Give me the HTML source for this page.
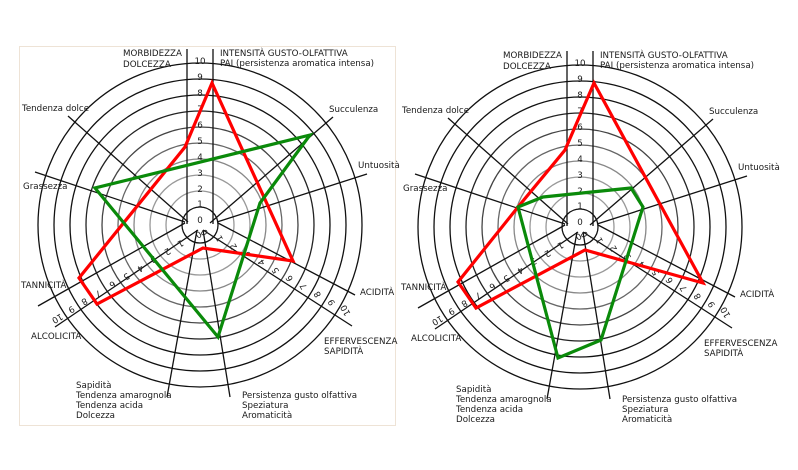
<!DOCTYPE html>
<html><head><meta charset="utf-8"><style>
html,body{margin:0;padding:0;background:#fff;}
svg{display:block;}
text{font-family:"DejaVu Sans","Liberation Sans",sans-serif;font-size:8.7px;fill:#1a1a1a;}
</style></head><body>
<svg width="798" height="470" viewBox="0 0 798 470" xmlns="http://www.w3.org/2000/svg">
<rect x="0" y="0" width="798" height="470" fill="#fff"/>
<rect x="19.5" y="46.5" width="376" height="379" fill="none" stroke="#eee3d6" stroke-width="1"/>
<defs>
<g id="grid" fill="none" stroke-width="1.3">
  <circle cx="200" cy="225" r="18" stroke="#111"/>
  <circle cx="200" cy="225" r="34" stroke="#999"/>
  <circle cx="200" cy="225" r="50" stroke="#999"/>
  <circle cx="200" cy="225" r="66" stroke="#888"/>
  <circle cx="200" cy="225" r="82" stroke="#666"/>
  <circle cx="200" cy="225" r="98" stroke="#444"/>
  <circle cx="200" cy="225" r="114" stroke="#222"/>
  <circle cx="200" cy="225" r="130" stroke="#111"/>
  <circle cx="200" cy="225" r="146" stroke="#111"/>
  <circle cx="200" cy="225" r="162" stroke="#111"/>
  <g stroke="#111">
    <line x1="187" y1="224" x2="187" y2="49"/>
    <line x1="213" y1="224" x2="213" y2="49"/>
    <line x1="188" y1="222" x2="68" y2="116"/>
    <line x1="210" y1="223" x2="333" y2="117"/>
    <line x1="185" y1="222" x2="35" y2="172"/>
    <line x1="217" y1="222" x2="367" y2="174"/>
    <line x1="185" y1="223" x2="38" y2="306"/>
    <line x1="198" y1="230" x2="55" y2="327"/>
    <line x1="218" y1="223" x2="355" y2="295"/>
    <line x1="203" y1="230" x2="352" y2="326"/>
    <line x1="197" y1="230" x2="167" y2="397"/>
    <line x1="203" y1="230" x2="230" y2="397"/>
  </g>
</g>
</defs>
<use href="#grid"/>
<use href="#grid" transform="translate(380,2)"/>

<g>
<text x="123" y="56">MORBIDEZZA</text>
<text x="123" y="67">DOLCEZZA</text>
<text x="220" y="56">INTENSITÀ GUSTO-OLFATTIVA</text>
<text x="220" y="66">PAI (persistenza aromatica intensa)</text>
<text x="22" y="111">Tendenza dolce</text>
<text x="329" y="112">Succulenza</text>
<text x="358" y="168">Untuosità</text>
<text x="23" y="189">Grassezza</text>
<text x="21" y="288">TANNICITÀ</text>
<text x="360" y="295">ACIDITÀ</text>
<text x="31" y="339">ALCOLICITÀ</text>
<text x="324" y="344">EFFERVESCENZA</text>
<text x="324" y="354">SAPIDITÀ</text>
<text x="76" y="388">Sapidità</text>
<text x="76" y="398">Tendenza amarognola</text>
<text x="76" y="408">Tendenza acida</text>
<text x="76" y="418">Dolcezza</text>
<text x="242" y="398">Persistenza gusto olfattiva</text>
<text x="242" y="408">Speziatura</text>
<text x="242" y="418">Aromaticità</text>
</g>
<g transform="translate(380,2)">
<text x="123" y="56">MORBIDEZZA</text>
<text x="123" y="67">DOLCEZZA</text>
<text x="220" y="56">INTENSITÀ GUSTO-OLFATTIVA</text>
<text x="220" y="66">PAI (persistenza aromatica intensa)</text>
<text x="22" y="111">Tendenza dolce</text>
<text x="329" y="112">Succulenza</text>
<text x="358" y="168">Untuosità</text>
<text x="23" y="189">Grassezza</text>
<text x="21" y="288">TANNICITÀ</text>
<text x="360" y="295">ACIDITÀ</text>
<text x="31" y="339">ALCOLICITÀ</text>
<text x="324" y="344">EFFERVESCENZA</text>
<text x="324" y="354">SAPIDITÀ</text>
<text x="76" y="390">Sapidità</text>
<text x="76" y="400">Tendenza amarognola</text>
<text x="76" y="410">Tendenza acida</text>
<text x="76" y="420">Dolcezza</text>
<text x="242" y="400">Persistenza gusto olfattiva</text>
<text x="242" y="410">Speziatura</text>
<text x="242" y="420">Aromaticità</text>
</g>

<g text-anchor="middle">
<text x="200" y="223">0</text><text x="200" y="207">1</text><text x="200" y="192">2</text><text x="200" y="176">3</text><text x="200" y="160">4</text><text x="200" y="144">5</text><text x="200" y="128">6</text><text x="200" y="112">7</text><text x="200" y="96">8</text><text x="200" y="80">9</text><text x="200" y="64">10</text>
</g>
<g text-anchor="middle" transform="translate(380,2)">
<text x="200" y="223">0</text><text x="200" y="207">1</text><text x="200" y="192">2</text><text x="200" y="176">3</text><text x="200" y="160">4</text><text x="200" y="144">5</text><text x="200" y="128">6</text><text x="200" y="112">7</text><text x="200" y="96">8</text><text x="200" y="80">9</text><text x="200" y="64">10</text>
</g>

<g text-anchor="middle">
<text transform="translate(197,232) rotate(150)">0</text>
<text transform="translate(179,241) rotate(150)">1</text>
<text transform="translate(166,249) rotate(150)">2</text>
<text transform="translate(152,257) rotate(150)">3</text>
<text transform="translate(139,266) rotate(150)">4</text>
<text transform="translate(125,274) rotate(150)">5</text>
<text transform="translate(111,282) rotate(150)">6</text>
<text transform="translate(97,291) rotate(150)">7</text>
<text transform="translate(83,299) rotate(150)">8</text>
<text transform="translate(70,307) rotate(150)">9</text>
<text transform="translate(56,316) rotate(150)">10</text>
<text transform="translate(207,231) rotate(-120)">0</text>
<text transform="translate(222,237) rotate(-120)">1</text>
<text transform="translate(236,245) rotate(-120)">2</text>
<text transform="translate(250,253) rotate(-120)">3</text>
<text transform="translate(264,261) rotate(-120)">4</text>
<text transform="translate(278,269) rotate(-120)">5</text>
<text transform="translate(292,277) rotate(-120)">6</text>
<text transform="translate(306,285) rotate(-120)">7</text>
<text transform="translate(320,293) rotate(-120)">8</text>
<text transform="translate(334,301) rotate(-120)">9</text>
<text transform="translate(348,309) rotate(-120)">10</text>
</g>
<g text-anchor="middle" transform="translate(380,2)">
<text transform="translate(197,232) rotate(150)">0</text>
<text transform="translate(179,241) rotate(150)">1</text>
<text transform="translate(166,249) rotate(150)">2</text>
<text transform="translate(152,257) rotate(150)">3</text>
<text transform="translate(139,266) rotate(150)">4</text>
<text transform="translate(125,274) rotate(150)">5</text>
<text transform="translate(111,282) rotate(150)">6</text>
<text transform="translate(97,291) rotate(150)">7</text>
<text transform="translate(83,299) rotate(150)">8</text>
<text transform="translate(70,307) rotate(150)">9</text>
<text transform="translate(56,316) rotate(150)">10</text>
<text transform="translate(207,231) rotate(-120)">0</text>
<text transform="translate(222,237) rotate(-120)">1</text>
<text transform="translate(236,245) rotate(-120)">2</text>
<text transform="translate(250,253) rotate(-120)">3</text>
<text transform="translate(264,261) rotate(-120)">4</text>
<text transform="translate(278,269) rotate(-120)">5</text>
<text transform="translate(292,277) rotate(-120)">6</text>
<text transform="translate(306,285) rotate(-120)">7</text>
<text transform="translate(320,293) rotate(-120)">8</text>
<text transform="translate(334,301) rotate(-120)">9</text>
<text transform="translate(348,309) rotate(-120)">10</text>
</g>

<g fill="none" stroke-width="3.2" stroke-linejoin="miter">
<polygon points="212,83 293,261 203,248 97,304 79,278 185,147" stroke="#ff0000"/>
<polygon points="310,135 95,188 218,337 260,203" stroke="#0a8a0a"/>
<polygon points="594,83 703,283 585,250 476,308 458,282 518,207 565,150" stroke="#ff0000"/>
<polygon points="543,197 631,188 643,207 601,340 558,358 518,207" stroke="#0a8a0a"/>
</g>
</svg>
</body></html>
